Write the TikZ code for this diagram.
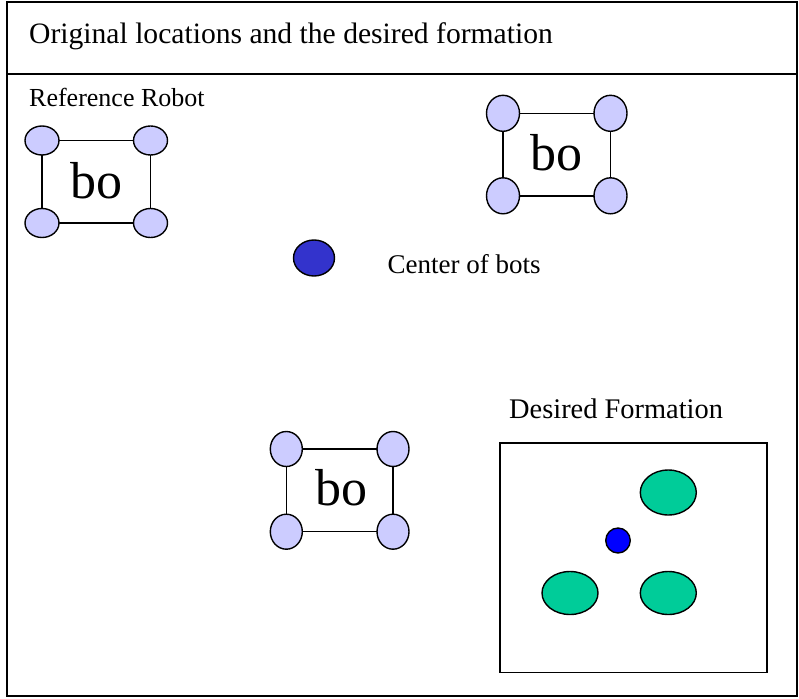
\documentclass[tikz,border=0pt]{standalone}
\usepackage{fontspec}
\setmainfont{Liberation Serif}
\usetikzlibrary{shapes.geometric}
\definecolor{wheelcol}{HTML}{CCCCFF}
\definecolor{greencol}{HTML}{00CC99}
\definecolor{centercol}{HTML}{3333CC}
\definecolor{dotcol}{HTML}{0000FF}
\tikzset{
  wheelA/.style={ellipse, draw, fill=wheelcol, line width=1.4pt, inner sep=0pt, outer sep=0pt, minimum width=34pt, minimum height=29pt},
  wheelB/.style={ellipse, draw, fill=wheelcol, line width=1.4pt, inner sep=0pt, outer sep=0pt, minimum width=32pt, minimum height=35pt},
  bodyline/.style={line width=1.5pt},
  botlabel/.style={anchor=base, inner sep=0pt, font=\fontsize{52}{60}\selectfont},
  lbl/.style={anchor=base west, inner sep=0pt, font=\fontsize{26}{30}\selectfont},
  bot/.style={ellipse, draw, fill=greencol, line width=1.4pt, inner sep=0pt, outer sep=0pt, minimum width=56pt, minimum height=43pt},
}
\begin{document}
\begin{tikzpicture}[x=1pt,y=-1pt]
\useasboundingbox (0,0) rectangle (799,698);
% outer frame
\draw[line width=2pt] (7,2.5) rectangle (797,696);
\draw[line width=1.8pt] (7,74) -- (797,74);
\node[anchor=base west, inner sep=0pt, font=\fontsize{29.6}{34}\selectfont] (title) at (29,44) {Original locations and the desired formation};
\node[lbl] (reflbl) at (29,106.5) {Reference Robot};
\node[lbl, font=\fontsize{27}{31}\selectfont] (cenlbl) at (387.5,273) {Center of bots};
\node[lbl, font=\fontsize{28.4}{33}\selectfont] (deslbl) at (509,418) {Desired Formation};

% robot 1
\node[wheelA] (a1) at (42,140.5) {};
\node[wheelA] (a2) at (150.5,140.5) {};
\node[wheelA] (a3) at (42,223) {};
\node[wheelA] (a4) at (150.5,223) {};
\draw[bodyline] (a1) -- (a2);
\draw[bodyline] (a2) -- (a4);
\draw[bodyline] (a4) -- (a3);
\draw[bodyline] (a3) -- (a1);
\node[botlabel] (alab) at (96,198.3) {bo};

% robot 2
\node[wheelB, minimum width=33pt, minimum height=36pt] (b1) at (503,113.3) {};
\node[wheelB, minimum width=33pt, minimum height=36pt] (b2) at (610.5,113.3) {};
\node[wheelB, minimum width=33pt, minimum height=36pt] (b3) at (503,195.8) {};
\node[wheelB, minimum width=33pt, minimum height=36pt] (b4) at (610.5,195.8) {};
\draw[bodyline] (b1) -- (b2);
\draw[bodyline] (b2) -- (b4);
\draw[bodyline] (b4) -- (b3);
\draw[bodyline] (b3) -- (b1);
\node[botlabel] (blab) at (556.5,170) {bo};

% robot 3
\node[wheelB] (c1) at (286.3,449) {};
\node[wheelB] (c2) at (393,449) {};
\node[wheelB] (c3) at (286.3,531.7) {};
\node[wheelB] (c4) at (393,531.7) {};
\draw[bodyline] (c1) -- (c2);
\draw[bodyline] (c2) -- (c4);
\draw[bodyline] (c4) -- (c3);
\draw[bodyline] (c3) -- (c1);
\node[botlabel] (clab) at (341,505) {bo};

% center of bots
\node[ellipse, draw, fill=centercol, line width=1.4pt, inner sep=0pt, minimum width=41pt, minimum height=36pt] (center) at (314,258) {};

% desired formation
\draw[line width=1.6pt] (500,442.7) rectangle (766.7,672.3);
\node[bot, minimum height=45pt] (g1) at (668.3,492.5) {};
\node[bot] (g2) at (570,593) {};
\node[bot] (g3) at (668.3,593) {};
\node[ellipse, draw, fill=dotcol, line width=1.4pt, inner sep=0pt, minimum width=24.5pt, minimum height=25pt] (dot) at (618,540.5) {};
\end{tikzpicture}
\end{document}
